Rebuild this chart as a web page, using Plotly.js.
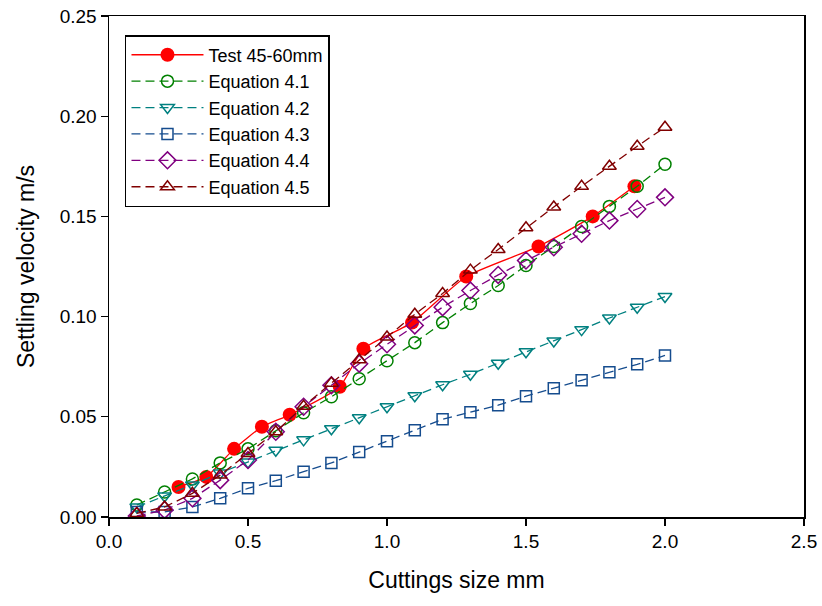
<!DOCTYPE html>
<html>
<head>
<meta charset="utf-8">
<script src="https://cdn.plot.ly/plotly-3.0.1.min.js"></script>
<style>html,body{margin:0;padding:0;background:#fff;}#chart{width:822px;height:606px;}</style>
</head>
<body>
<div id="chart"></div>
<script>
// Test data
const testX = [0.25, 0.35, 0.45, 0.55, 0.65, 0.83, 0.915, 1.09, 1.285, 1.545, 1.74, 1.89];
const testY = [0.015, 0.020, 0.034, 0.045, 0.051, 0.065, 0.084, 0.097, 0.120, 0.135, 0.150, 0.165];

// Equation predictions
const eqX = [0.1, 0.2, 0.3, 0.4, 0.5, 0.6, 0.7, 0.8, 0.9, 1.0, 1.1, 1.2, 1.3, 1.4, 1.5, 1.6, 1.7, 1.8, 1.9, 2.0];
const eq41 = [0.006, 0.0125, 0.019, 0.027, 0.034, 0.043, 0.052, 0.060, 0.069, 0.078, 0.087, 0.097, 0.1065, 0.1155, 0.1255, 0.135, 0.145, 0.155, 0.165, 0.176];
const eq42 = [0.005, 0.0105, 0.016, 0.022, 0.0275, 0.0333, 0.0385, 0.044, 0.0495, 0.055, 0.0605, 0.066, 0.0712, 0.0767, 0.0825, 0.0878, 0.0935, 0.0993, 0.1047, 0.110];
const eq43 = [0.0025, 0.0025, 0.005, 0.0093, 0.0143, 0.0181, 0.0226, 0.027, 0.0324, 0.0378, 0.0433, 0.0488, 0.0523, 0.0558, 0.0603, 0.0642, 0.0682, 0.0722, 0.0762, 0.0806];
const eq44 = [0.0005, 0.0035, 0.0093, 0.0184, 0.0284, 0.0425, 0.055, 0.0657, 0.0765, 0.0862, 0.0956, 0.1047, 0.113, 0.1208, 0.128, 0.1346, 0.1413, 0.1479, 0.1537, 0.1595];
const eq45 = [0.0018, 0.005, 0.0118, 0.0209, 0.0317, 0.0425, 0.0553, 0.0668, 0.0785, 0.0898, 0.1012, 0.1115, 0.1232, 0.1335, 0.1443, 0.1547, 0.1650, 0.1750, 0.1850, 0.1945];

const seriesNames = ['Test 45-60mm', 'Equation 4.1', 'Equation 4.2', 'Equation 4.3', 'Equation 4.4', 'Equation 4.5'];

const dash = '9px,5px';
function eqTrace(y, name, color, symbol, size) {
  return {
    x: eqX, y: y, name: name, type: 'scatter', mode: 'lines+markers',
    line: {color: color, width: 1.3, dash: dash},
    marker: {symbol: symbol, size: size, color: color, line: {color: color, width: 1.5}}
  };
}

const traces = [
  {
    x: testX, y: testY, name: seriesNames[0], type: 'scatter', mode: 'lines+markers',
    line: {color: '#FF0000', width: 1.3, shape: 'spline', smoothing: 0.5},
    marker: {symbol: 'circle', size: 14, color: '#FF0000'}
  },
  eqTrace(eq41, seriesNames[1], '#008000', 'circle-open', 12),
  eqTrace(eq42, seriesNames[2], '#008080', 'triangle-down-open', 12),
  eqTrace(eq43, seriesNames[3], '#154C8E', 'square-open', 11),
  eqTrace(eq44, seriesNames[4], '#800080', 'diamond-open', 13),
  eqTrace(eq45, seriesNames[5], '#800000', 'triangle-up-open', 12)
];

const font = {family: 'Liberation Sans, Arial, sans-serif', color: '#000'};

const layout = {
  width: 822, height: 606,
  margin: {l: 109, r: 18, t: 16, b: 89, pad: 0},
  paper_bgcolor: '#fff', plot_bgcolor: '#fff',
  font: Object.assign({size: 19}, font),
  showlegend: true,
  legend: {
    x: 0.023, y: 0.962, xanchor: 'left', yanchor: 'top',
    bordercolor: '#000', borderwidth: 1.5, bgcolor: '#fff',
    font: Object.assign({size: 18}, font),
    tracegroupgap: 0, itemwidth: 72
  },
  xaxis: {
    range: [0, 2.5], tickvals: [0, 0.5, 1.0, 1.5, 2.0, 2.5],
    ticktext: ['0.0', '0.5', '1.0', '1.5', '2.0', '2.5'],
    showline: true, linecolor: '#000', linewidth: 1.5, mirror: true,
    ticks: 'outside', ticklen: 7, tickwidth: 1.2, tickcolor: '#000',
    showgrid: false, zeroline: false,
    tickfont: Object.assign({size: 19}, font),
    title: {text: 'Cuttings size mm', font: Object.assign({size: 23}, font), standoff: 20}
  },
  yaxis: {
    range: [0, 0.25], tickvals: [0, 0.05, 0.10, 0.15, 0.20, 0.25],
    ticktext: ['0.00', '0.05', '0.10', '0.15', '0.20', '0.25'],
    showline: true, linecolor: '#000', linewidth: 1.5, mirror: true,
    ticks: 'outside', ticklen: 7, tickwidth: 1.2, tickcolor: '#000',
    showgrid: false, zeroline: false,
    tickfont: Object.assign({size: 19}, font),
    title: {text: 'Settling velocity m/s', font: Object.assign({size: 23}, font), standoff: 18}
  }
};

Plotly.newPlot('chart', traces, layout, {displayModeBar: false, staticPlot: true});
</script>
</body>
</html>
